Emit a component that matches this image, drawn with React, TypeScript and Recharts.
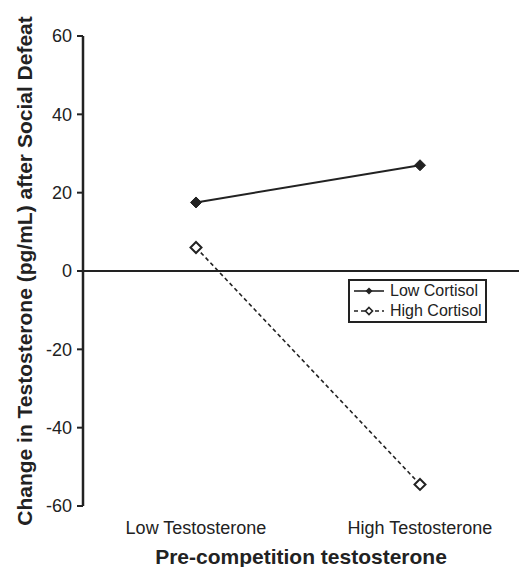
import { LineChart, Line, XAxis, YAxis, ReferenceLine, Label } from 'recharts';

const categories = ['Low Testosterone', 'High Testosterone'];
const lowCortisol = [17.5, 27];
const highCortisol = [6, -54.5];
const yTicks = [-60, -40, -20, 0, 20, 40, 60];
const seriesNames = ['Low Cortisol', 'High Cortisol'];

const data = categories.map((name, i) => ({
  name,
  low: lowCortisol[i],
  high: highCortisol[i],
}));

const INK = '#222';
const FONT = 'Liberation Sans, Arial, sans-serif';

function FilledDiamond(props: any) {
  const { cx, cy } = props;
  if (cx == null || cy == null) return null;
  const r = 5.5;
  return (
    <polygon
      points={`${cx},${cy - r} ${cx + r},${cy} ${cx},${cy + r} ${cx - r},${cy}`}
      fill={INK}
      stroke={INK}
      strokeWidth={1}
    />
  );
}

function OpenDiamond(props: any) {
  const { cx, cy } = props;
  if (cx == null || cy == null) return null;
  const r = 5.5;
  return (
    <polygon
      points={`${cx},${cy - r} ${cx + r},${cy} ${cx},${cy + r} ${cx - r},${cy}`}
      fill="#fff"
      stroke={INK}
      strokeWidth={2}
    />
  );
}

// legend box drawn as plain html so it doesn't shrink the plot
function LegendBox() {
  const row = (label: string, dashed: boolean) => (
    <div key={label} style={{ display: 'flex', alignItems: 'center', height: 20 }}>
      <svg width={32} height={12} style={{ marginRight: 5, flex: 'none' }}>
        <line x1={1} y1={6} x2={31} y2={6} stroke={INK} strokeWidth={1.6} strokeDasharray={dashed ? '4 3' : undefined} />
        {dashed ? (
          <polygon points="16,2.5 19.5,6 16,9.5 12.5,6" fill="#fff" stroke={INK} strokeWidth={1.6} />
        ) : (
          <polygon points="16,2.5 19.5,6 16,9.5 12.5,6" fill={INK} />
        )}
      </svg>
      <span>{label}</span>
    </div>
  );
  return (
    <div
      style={{
        position: 'absolute',
        left: 348,
        top: 279,
        width: 139,
        height: 44,
        border: `2px solid ${INK}`,
        background: '#fff',
        padding: '0 0 0 3px',
        fontFamily: FONT,
        fontSize: 16,
        lineHeight: '20px',
        color: INK,
        boxSizing: 'border-box',
      }}
    >
      {row(seriesNames[0], false)}
      {row(seriesNames[1], true)}
    </div>
  );
}

export default function App() {
  return (
    <div style={{ position: 'absolute', left: 0, top: 0, width: 519, height: 567, background: '#fff' }}>
      <LineChart width={519} height={567} data={data} margin={{ top: 36, right: 0, bottom: 0, left: 0 }}>
        <XAxis
          dataKey="name"
          type="category"
          padding={{ left: 113, right: 99 }}
          axisLine={false}
          tickLine={false}
          height={61}
          tickSize={6}
          tickMargin={9}
          tick={{ fontSize: 18, fill: INK, fontFamily: FONT }}
        >
          <Label
            value="Pre-competition testosterone"
            position="insideBottom"
            offset={3}
            style={{ fontSize: 21, fontWeight: 'bold', fill: INK, fontFamily: FONT }}
          />
        </XAxis>
        <YAxis
          domain={[-60, 60]}
          ticks={yTicks}
          width={83}
          tickSize={6}
          tickMargin={5}
          axisLine={{ stroke: INK, strokeWidth: 2.5 }}
          tickLine={{ stroke: INK, strokeWidth: 2 }}
          tick={{ fontSize: 18, fill: INK, fontFamily: FONT }}
          interval={0}
        >
          <Label
            content={(props: any) => {
              const vb = props.viewBox || { x: 0, y: 36, height: 470 };
              const x = 32;
              const y = vb.y + vb.height / 2;
              return (
                <text
                  x={x}
                  y={y}
                  transform={`rotate(-90, ${x}, ${y})`}
                  textAnchor="middle"
                  style={{ fontSize: 21, fontWeight: 'bold', fill: INK, fontFamily: FONT }}
                >
                  Change in Testosterone (pg/mL) after Social Defeat
                </text>
              );
            }}
          />
        </YAxis>
        <ReferenceLine y={0} stroke={INK} strokeWidth={2} />
        <Line
          dataKey="low"
          name={seriesNames[0]}
          stroke={INK}
          strokeWidth={2}
          dot={<FilledDiamond />}
          activeDot={false}
          isAnimationActive={false}
        />
        <Line
          dataKey="high"
          name={seriesNames[1]}
          stroke={INK}
          strokeWidth={1.6}
          strokeDasharray="4 3"
          dot={<OpenDiamond />}
          activeDot={false}
          isAnimationActive={false}
        />
      </LineChart>
      <LegendBox />
    </div>
  );
}
